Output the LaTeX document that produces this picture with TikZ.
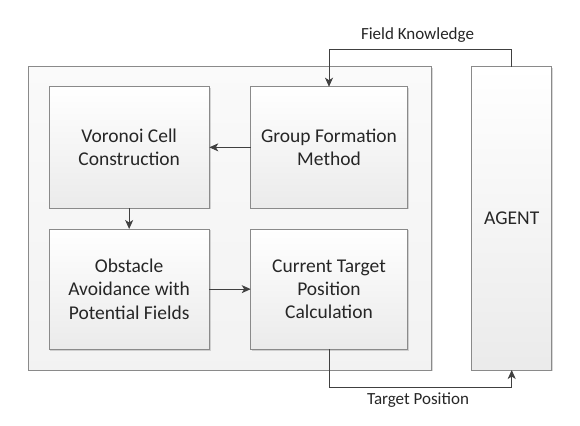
\documentclass[tikz,border=0pt]{standalone}
\usepackage{fontspec}
\setmainfont{Carlito}
\usetikzlibrary{arrows.meta,shadows}
\definecolor{edge}{HTML}{8A8A8A}
\definecolor{conn}{HTML}{404040}
\tikzset{
  box/.style={draw=edge, line width=0.8pt, inner sep=0pt, outer sep=0pt,
    top color=white, bottom color=black!8, align=center, text=black!85,
    font=\fontsize{19.5}{23.3}\selectfont,
    drop shadow={shadow xshift=1.2pt, shadow yshift=-1.2pt, opacity=0.25, fill=black!60}},
  frame/.style={draw=edge, line width=0.8pt, inner sep=0pt, outer sep=0pt,
    top color=black!2, bottom color=black!5,
    drop shadow={shadow xshift=1.2pt, shadow yshift=-1.2pt, opacity=0.25, fill=black!60}},
  arr/.style={draw=conn, line width=0.9pt, -{Stealth[length=9pt,width=8pt,inset=2.5pt]}},
  lbl/.style={font=\fontsize{17}{20}\selectfont, text=black!85, inner sep=0pt}
}
\begin{document}
\begin{tikzpicture}[x=1pt,y=-1pt]
\fill[white] (0,0) rectangle (580,425);
\useasboundingbox (0,0) rectangle (580,425);
\node[frame, minimum width=403.4pt, minimum height=303.3pt] (outer) at (230,218.35) {};
\node[box, minimum width=80pt, minimum height=303.3pt] (agent) at (511.7,218.35) {AGENT};
\node[box, minimum width=160.3pt, minimum height=121.3pt] (vor) at (129.15,147.35) {Voronoi Cell\\Construction};
\node[box, minimum width=156.6pt, minimum height=121.3pt] (grp) at (329,147.35) {Group Formation\\Method};
\node[box, minimum width=160.3pt, minimum height=120.3pt] (obs) at (129.15,289.15) {Obstacle\\Avoidance with\\Potential Fields};
\node[box, minimum width=156.6pt, minimum height=120.3pt] (cur) at (329,289.15) {Current Target\\Position\\Calculation};
\draw[arr] (grp.west) -- (vor.east);
\draw[arr] (vor.south) -- (obs.north);
\draw[arr] (obs.east) -- (cur.west);
\coordinate (fk) at (511.7,49.3);
\coordinate (tp) at (329,387.7);
\draw[arr] (agent.north) -- (fk) -| (grp.north);
\draw[arr] (cur.south) -- (tp) -| (agent.south);
\node[lbl] (fklabel) at (417.5,35) {Field Knowledge};
\node[lbl] (tplabel) at (418,400.5) {Target Position};
\end{tikzpicture}
\end{document}
